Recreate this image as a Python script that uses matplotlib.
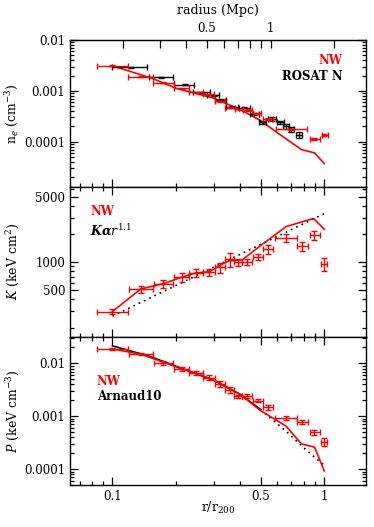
import matplotlib.pyplot as plt
import matplotlib.ticker as mticker
import numpy as np

plt.rcParams['font.family'] = 'DejaVu Serif'
plt.rcParams['mathtext.fontset'] = 'dejavuserif'

RED = '#ff0000'
r200 = 1.79  # Mpc, for the top axis

# ---- density panel: NW (red) ----
ne_r = [0.1, 0.136, 0.174, 0.212, 0.248, 0.283, 0.322, 0.36, 0.40, 0.435, 0.48, 0.545, 0.70, 0.89, 1.0]
ne_lo = [0.085, 0.118, 0.155, 0.195, 0.23, 0.267, 0.305, 0.34, 0.38, 0.415, 0.46, 0.515, 0.59, 0.86, 0.975]
ne_hi = [0.118, 0.155, 0.195, 0.23, 0.267, 0.30, 0.34, 0.38, 0.415, 0.455, 0.50, 0.575, 0.83, 0.95, 1.04]
ne_val = [0.0031, 0.0019, 0.00145, 0.00113, 0.00094, 0.00085, 0.00062, 0.00047, 0.00043,
          0.00042, 0.00036, 0.00028, 0.000175, 0.000113, 0.000135]
ne_err = [0.00008, 0.00005, 0.00004, 0.00003, 0.00003, 0.00002, 0.00002, 0.000015, 0.000012,
          0.000012, 0.00001, 0.00001, 0.000006, 0.000005, 0.000006]

# ---- density panel: ROSAT N (black) ----
ro_r = [0.122, 0.17, 0.22, 0.265, 0.30, 0.325, 0.365, 0.42, 0.466, 0.51, 0.566, 0.62, 0.66, 0.70, 0.76]
ro_lo = [0.100, 0.148, 0.196, 0.24, 0.28, 0.305, 0.345, 0.395, 0.445, 0.49, 0.54, 0.60, 0.64, 0.68, 0.735]
ro_hi = [0.145, 0.193, 0.243, 0.29, 0.32, 0.345, 0.39, 0.445, 0.49, 0.53, 0.59, 0.645, 0.68, 0.72, 0.785]
ro_val = [0.0029, 0.00183, 0.00131, 0.00094, 0.00082, 0.00067, 0.00049, 0.00047, 0.00035,
          0.00024, 0.00028, 0.00024, 0.0002, 0.000177, 0.000138]
ro_err = [0.00005, 0.00004, 0.00003, 0.00002, 0.00002, 0.00002, 0.00002, 0.00002, 0.00002,
          0.00002, 0.00002, 0.00002, 0.00002, 0.00002, 0.00002]

# model density line
nel_r = [0.1, 0.153, 0.2, 0.3, 0.4, 0.5, 0.6, 0.78, 0.9, 1.0]
nel_val = [0.0031, 0.00178, 0.00112, 0.00072, 0.00043, 0.00026, 0.00015, 7.0e-5, 6.0e-5, 3.7e-5]

# ---- entropy & pressure panels: NW bins ----
nw_r = [0.1, 0.136, 0.174, 0.212, 0.248, 0.286, 0.322, 0.358, 0.393, 0.433, 0.485, 0.545, 0.66, 0.787, 0.89, 1.0]
nw_lo = [0.085, 0.12, 0.157, 0.195, 0.23, 0.267, 0.305, 0.34, 0.376, 0.41, 0.46, 0.515, 0.585, 0.74, 0.857, 0.97]
nw_hi = [0.118, 0.156, 0.193, 0.23, 0.267, 0.305, 0.34, 0.376, 0.41, 0.455, 0.515, 0.575, 0.74, 0.84, 0.95, 1.03]

K_val = [297, 518, 590, 690, 770, 780, 880, 1070, 1000, 1000, 1130, 1370, 1830, 1490, 1950, 960]
K_err = [20, 45, 60, 70, 75, 60, 110, 190, 80, 70, 80, 140, 180, 160, 220, 150]

Kl_r = [0.1, 0.136, 0.174, 0.212, 0.248, 0.286, 0.322, 0.358, 0.41, 0.5, 0.66, 0.89, 1.0]
Kl_val = [297, 518, 590, 690, 770, 790, 930, 1040, 1060, 1500, 2400, 2930, 2250]
Kfit_r = [0.1, 1.0]
Kfit_val = [265, 3300]

P_val = [0.0187, 0.0151, 0.0102, 0.0078, 0.0066, 0.0054, 0.0041, 0.00317, 0.00237, 0.00244,
         0.00197, 0.00147, 0.00093, 0.00078, 0.0005, 0.00033]
P_err = [0.0007, 0.0008, 0.0008, 0.0006, 0.0005, 0.0006, 0.0005, 0.0004, 0.00015, 0.00018,
         0.00014, 0.00013, 0.00008, 0.00008, 0.00006, 0.00006]

Pl_r = [0.1, 0.136, 0.174, 0.212, 0.25, 0.3, 0.4, 0.5, 0.66, 0.78, 0.9, 1.0]
Pl_val = [0.0187, 0.015, 0.0105, 0.0079, 0.0064, 0.0049, 0.0026, 0.00128, 0.00065, 0.0003, 0.00026, 9.2e-5]

arn_r = [0.1, 0.15, 0.2, 0.3, 0.4, 0.5]
arn_val = [0.0215, 0.0136, 0.0088, 0.0048, 0.0026, 0.00135]
arnd_r = [0.5, 0.533, 0.664, 0.795, 0.97, 1.0]
arnd_val = [0.00135, 0.00107, 0.00051, 0.00026, 0.000129, 0.000122]


def xerr_of(r, lo, hi):
    r = np.array(r)
    return [r - np.array(lo), np.array(hi) - r]


fig = plt.figure(figsize=(3.74, 5.27), dpi=100)
L, W = 0.187, 0.791
ax1 = fig.add_axes([L, 0.6457, W, 0.2784])
ax2 = fig.add_axes([L, 0.3611, W, 0.2846])
ax3 = fig.add_axes([L, 0.0797, W, 0.2814])

eb = dict(fmt='none', elinewidth=1.0, capsize=2.2, capthick=1.0)

# density
ax1.plot(nel_r, nel_val, color=RED, lw=1.2)
ax1.errorbar(ro_r, ro_val, xerr=xerr_of(ro_r, ro_lo, ro_hi), yerr=ro_err, ecolor='black', **eb)
ax1.errorbar(ne_r, ne_val, xerr=xerr_of(ne_r, ne_lo, ne_hi), yerr=ne_err, ecolor=RED, **eb)
ax1.set_ylim(1.3e-5, 0.01)
ax1.text(0.922, 0.857, 'NW', color=RED, fontweight='bold', fontsize=8.5,
         ha='right', va='center', transform=ax1.transAxes)
ax1.text(0.922, 0.748, 'ROSAT N', color='black', fontweight='bold', fontsize=8.5,
         ha='right', va='center', transform=ax1.transAxes)
ax1.set_ylabel(r'n$_e$ (cm$^{-3}$)', fontsize=9)

# entropy
ax2.plot(Kfit_r, Kfit_val, color='black', lw=1.2, ls=(0, (1, 2.5)))
ax2.plot(Kl_r, Kl_val, color=RED, lw=1.2)
ax2.errorbar(nw_r, K_val, xerr=xerr_of(nw_r, nw_lo, nw_hi), yerr=K_err, ecolor=RED, **eb)
ax2.set_ylim(160, 6400)
ax2.text(0.068, 0.833, 'NW', color=RED, fontweight='bold', fontsize=8.5,
         ha='left', va='center', transform=ax2.transAxes)
ax2.text(0.068, 0.705, r'$\boldsymbol{K\alpha r^{1.1}}$', color='black', fontsize=9,
         ha='left', va='center', transform=ax2.transAxes)
ax2.set_ylabel(r'$K$ (keV cm$^2$)', fontsize=9)

# pressure
ax3.plot(arn_r, arn_val, color='black', lw=1.2)
ax3.plot(arnd_r, arnd_val, color='black', lw=1.2, ls=(0, (1, 2.5)))
ax3.plot(Pl_r, Pl_val, color=RED, lw=1.2)
ax3.errorbar(nw_r, P_val, xerr=xerr_of(nw_r, nw_lo, nw_hi), yerr=P_err, ecolor=RED, **eb)
ax3.set_ylim(5e-5, 0.032)
ax3.text(0.091, 0.697, 'NW', color=RED, fontweight='bold', fontsize=8.5,
         ha='left', va='center', transform=ax3.transAxes)
ax3.text(0.091, 0.595, 'Arnaud10', color='black', fontweight='bold', fontsize=8.5,
         ha='left', va='center', transform=ax3.transAxes)
ax3.set_ylabel(r'$P$ (keV cm$^{-3}$)', fontsize=9)
ax3.set_xlabel(r'r/r$_{200}$', fontsize=9)
ax3.xaxis.set_label_coords(0.5, -0.10)

for ax in (ax1, ax2, ax3):
    ax.set_xscale('log')
    ax.set_yscale('log')
    ax.set_xlim(0.063, 1.57)
    ax.xaxis.set_major_locator(mticker.FixedLocator([0.1, 0.5, 1.0]))
    ax.xaxis.set_minor_locator(mticker.FixedLocator([0.07, 0.08, 0.09, 0.2, 0.3, 0.4,
                                                     0.6, 0.7, 0.8, 0.9]))
    ax.xaxis.set_major_formatter(mticker.FixedFormatter(['0.1', '0.5', '1']))
    ax.xaxis.set_minor_formatter(mticker.NullFormatter())
    ax.yaxis.set_minor_locator(mticker.LogLocator(base=10, subs=np.arange(2, 10)))
    ax.yaxis.set_minor_formatter(mticker.NullFormatter())
    ax.tick_params(which='both', direction='in', right=True, top=(ax is not ax1),
                   labelsize=8.5, width=0.9)
    ax.tick_params(which='major', length=6)
    ax.tick_params(which='minor', length=3)
    ax.yaxis.set_label_coords(-0.165, 0.5)
    for s in ax.spines.values():
        s.set_linewidth(1.0)

ax1.tick_params(labelbottom=False)
ax2.tick_params(labelbottom=False)

for ax, labs in ((ax1, {1e-2: '0.01', 1e-3: '0.001', 1e-4: '0.0001'}),
                 (ax3, {1e-2: '0.01', 1e-3: '0.001', 1e-4: '0.0001'})):
    ax.yaxis.set_major_locator(mticker.FixedLocator(list(labs.keys())))
    ax.yaxis.set_major_formatter(mticker.FixedFormatter(list(labs.values())))

ax2.yaxis.set_major_locator(mticker.FixedLocator([500, 1000, 5000]))
ax2.yaxis.set_major_formatter(mticker.FixedFormatter(['500', '1000', '5000']))
ax2.yaxis.set_minor_locator(mticker.FixedLocator([200, 300, 400, 600, 700, 800, 900,
                                                  2000, 3000, 4000, 6000]))

# top axis in Mpc
sec = ax1.secondary_xaxis('top', functions=(lambda x: x * r200, lambda x: x / r200))
sec.xaxis.set_major_locator(mticker.FixedLocator([0.5, 1.0]))
sec.xaxis.set_major_formatter(mticker.FixedFormatter(['0.5', '1']))
sec.xaxis.set_minor_locator(mticker.FixedLocator([0.2, 0.3, 0.4, 0.6, 0.7, 0.8, 0.9, 2.0]))
sec.xaxis.set_minor_formatter(mticker.NullFormatter())
sec.tick_params(which='both', direction='in', labelsize=8.5, width=0.9)
sec.tick_params(which='major', length=6)
sec.tick_params(which='minor', length=6)
sec.set_xlabel('radius (Mpc)', fontsize=9, labelpad=6)

fig.savefig('out.png', dpi=100)
